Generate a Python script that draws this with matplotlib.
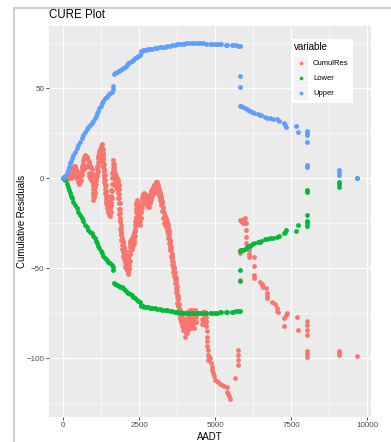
import numpy as np
import matplotlib.pyplot as plt
from matplotlib.lines import Line2D
from matplotlib.patches import Rectangle

plt.rcParams["font.family"] = ["Liberation Sans", "DejaVu Sans"]

# =========================
# data: (AADT, value)
# =========================
res_rise = [
    (0, 0), (30, 0.5), (66, 1), (110, 1.5), (150, 2), (190, 2.5), (230, 3), (260, 3.5),
    (286, 4), (310, 5), (330, 6), (360, 7), (395, 7), (410, 6), (430, 5), (450, 4),
    (470, 3), (490, 2), (504, 1), (520, 1.5), (540, 2), (560, 2.5), (580, 3), (600, 3.5),
    (614, 4), (625, 5.5), (640, 7), (655, 8.5), (669, 10), (685, 11), (700, 12), (720, 12.5),
    (740, 13), (760, 12.5), (780, 12), (800, 11), (820, 10), (840, 9), (860, 8), (880, 7),
    (900, 6.5), (920, 6), (943, 5), (952, 3), (960, 1), (968, -1.5), (975, -4), (980, -6),
    (985, -8), (990, -10), (998, -12), (1005, -10.5), (1010, -9), (1020, -7), (1030, -5),
    (1045, -3), (1060, -1), (1075, 0.5), (1090, 2), (1107, 3), (1118, 5), (1130, 7),
    (1140, 9), (1150, 11), (1160, 12.5), (1170, 14), (1185, 14.5), (1200, 15), (1220, 16),
    (1240, 17), (1255, 18), (1272, 19), (1280, 17), (1290, 15), (1295, 13), (1300, 11),
    (1308, 9.5), (1315, 8), (1320, 7), (1327, 6), (1333, 4), (1340, 2), (1350, 0),
    (1360, -2), (1370, -4), (1380, -6), (1390, -8), (1400, -10), (1410, -11.5), (1420, -13),
    (1428, -14), (1436, -15), (1450, -16.5), (1470, -18), (1485, -19), (1500, -20),
    (1520, -20.5), (1546, -21),
]

res_drop = [
    (1553, -19), (1560, -17), (1570, -13.5), (1580, -10), (1590, -6.5), (1600, -3),
    (1610, 0), (1620, 3), (1630, 5.5), (1640, 8), (1656, 10), (1663, 8), (1670, 6),
    (1685, 4.5), (1700, 3), (1720, 2), (1740, 1), (1760, 0.5), (1780, 0), (1800, -1),
    (1820, -2), (1830, -4), (1840, -6), (1848, -8.5), (1855, -11), (1862, -14), (1870, -17),
    (1875, -19.5), (1880, -22), (1890, -24), (1900, -26), (1908, -28), (1915, -30),
    (1922, -31.5), (1930, -33), (1945, -34), (1960, -35), (1975, -36), (1990, -37),
    (2005, -38), (2020, -39), (2030, -40.5), (2040, -42), (2055, -43.5), (2070, -45),
    (2085, -46.5), (2100, -48), (2115, -49.5), (2130, -51), (2140, -52), (2149, -53),
]

res_hump = [
    (2157, -50.5), (2165, -48), (2172, -45.5), (2180, -43), (2190, -40.5), (2200, -38),
    (2210, -36.5), (2220, -35), (2240, -34.5), (2260, -34), (2280, -33), (2300, -32),
    (2320, -31), (2340, -30), (2355, -29), (2368, -28), (2374, -26), (2380, -24),
    (2388, -21.5), (2395, -19), (2402, -17), (2410, -15), (2416, -13.5), (2423, -12),
    (2437, -13), (2450, -14), (2465, -16), (2480, -18), (2490, -19.5), (2500, -21),
    (2515, -21.5), (2533, -22), (2546, -19.5), (2560, -17), (2575, -14.5), (2590, -12),
    (2605, -10.5), (2620, -9), (2640, -8.5), (2660, -8), (2680, -8.5), (2700, -9),
    (2725, -10), (2750, -11), (2775, -12), (2800, -13), (2820, -11.5), (2840, -10),
    (2860, -9), (2880, -8), (2905, -7), (2930, -6), (2950, -5.5), (2971, -5), (2990, -4.5),
    (3010, -4), (3030, -3), (3050, -2), (3065, -2), (3082, -2), (3100, -3), (3120, -4),
    (3140, -5), (3160, -6), (3180, -7.5), (3200, -9), (3220, -10), (3240, -11),
    (3255, -12.5), (3270, -14), (3285, -16), (3300, -18), (3320, -19.5), (3340, -21),
    (3360, -21.5), (3380, -22), (3400, -23), (3420, -24), (3440, -25.5), (3464, -27),
    (3472, -28.5), (3480, -30), (3490, -31.5), (3500, -33), (3510, -34), (3520, -35),
    (3532, -36.5), (3545, -38), (3560, -40), (3575, -42), (3588, -43.5), (3600, -45),
    (3615, -46.5), (3630, -48), (3645, -49), (3662, -50), (3676, -52), (3690, -54),
    (3702, -55.5), (3715, -57), (3728, -58.5), (3740, -60), (3750, -62), (3760, -64),
    (3770, -65.5), (3780, -67), (3793, -70),
]

# second edge of the thick band (0 - 3800)
res_band = [
    (100, -1), (180, -0.5), (260, 0), (300, 1), (350, 2), (400, 2.5), (440, 0), (480, -2),
    (520, -3), (560, -2), (600, -1), (640, 2), (680, 5), (720, 7), (760, 7), (800, 6),
    (840, 3), (870, 1), (900, 0), (930, -1), (1000, -4), (1015, -6), (1030, -10),
    (1045, -8), (1060, -5), (1080, -3), (1100, -1), (1120, 1), (1140, 4), (1160, 7),
    (1180, 9), (1200, 11), (1220, 13), (1240, 14), (1260, 12), (1280, 10), (1300, 14),
    (1310, 16), (1320, 13), (1330, 11), (1345, 8), (1360, 5), (1375, 2), (1390, -1),
    (1405, -4), (1420, -7), (1440, -10), (1460, -12), (1480, -14), (1500, -16), (1520, -18),
    (1540, -16), (1555, -12), (1570, -19), (1585, -15), (1600, -11), (1615, -7), (1630, -3),
    (1645, 1), (1660, 4), (1680, 0), (1700, -2), (1720, -4), (1740, -3), (1760, -5),
    (1780, -6), (1800, -8), (1815, -11), (1830, -14), (1845, -17), (1855, -20), (1865, -24),
    (1880, -28), (1895, -31), (1910, -34), (1930, -37), (1950, -39), (1970, -41),
    (1990, -43), (2010, -45), (2030, -47), (2050, -49), (2070, -50), (2090, -51),
    (2180, -50), (2200, -46), (2220, -42), (2240, -40), (2260, -39), (2280, -38),
    (2300, -37), (2320, -36), (2340, -34), (2360, -32), (2380, -29), (2395, -26),
    (2410, -22), (2425, -18), (2440, -17), (2460, -20), (2480, -23), (2500, -25),
    (2520, -26), (2545, -24), (2560, -22), (2580, -19), (2600, -16), (2620, -14),
    (2645, -13), (2670, -12), (2700, -13), (2730, -14), (2760, -15), (2790, -16),
    (2820, -16), (2850, -14), (2880, -12), (2910, -11), (2940, -10), (2970, -9),
    (3000, -8), (3030, -7), (3060, -6), (3090, -6), (3120, -8), (3150, -10), (3180, -12),
    (3210, -13), (3240, -15), (3270, -18), (3300, -22), (3330, -25), (3360, -26),
    (3390, -27), (3420, -29), (3450, -31), (3470, -33), (3490, -36), (3510, -38),
    (3530, -40), (3550, -43), (3570, -46), (3590, -48), (3610, -50), (3630, -52),
    (3650, -54), (3670, -56), (3690, -58), (3710, -61), (3730, -63), (3745, -66),
    (3760, -69), (3775, -71),
]

res_cluster = [
    (3800, -72), (3815, -74), (3820, -70), (3830, -75.5), (3845, -77), (3850, -73),
    (3860, -78), (3870, -80), (3880, -74), (3890, -77), (3900, -80), (3910, -75),
    (3915, -82), (3930, -77), (3940, -80), (3957, -79), (3960, -84), (3970, -81),
    (3980, -83), (3990, -78), (4000, -81), (4010, -80), (4020, -85), (4030, -88),
    (4040, -83), (4050, -80), (4055, -86), (4069, -86), (4075, -83), (4080, -80),
    (4090, -74), (4100, -77), (4110, -84), (4120, -82), (4130, -74), (4140, -78),
    (4150, -81), (4160, -74), (4170, -79), (4178, -76), (4190, -73), (4200, -80),
    (4210, -83), (4220, -78), (4230, -75), (4240, -82), (4250, -73), (4260, -79),
    (4270, -77), (4286, -81), (4300, -76), (4310, -83), (4320, -78), (4330, -80),
    (4342, -75), (4350, -73), (4360, -80), (4370, -77), (4380, -74), (4390, -80),
    (4562, -75), (4570, -81), (4580, -78), (4590, -74), (4600, -81), (4615, -79),
    (4620, -74), (4640, -76), (4650, -79), (4671, -77), (4680, -74), (4690, -80),
    (4700, -77), (4710, -82), (4720, -79), (4727, -85),
]

res_fall = [
    (4730, -88), (4735, -90.5), (4740, -93), (4755, -95.5), (4770, -98), (4780, -101),
    (4800, -99), (4836, -100), (4860, -102.5), (4891, -105), (4915, -106.5), (4945, -108),
    (4970, -110), (5000, -112), (5050, -112.5), (5109, -113), (5160, -114), (5220, -115),
    (5300, -115.5), (5385, -116), (5405, -118.5), (5440, -120), (5470, -121), (5493, -122.5),
]

res_far = [
    (5658, -111), (5767, -95.4), (5767, -98.1), (5767, -100.9), (5767, -103.6),
    (5822, -23), (5850, -24), (5877, -24.5), (5905, -23), (5932, -25), (5960, -22.5),
    (5987, -22), (6020, -25), (6020, -28.7), (6020, -32.4), (6020, -36), (6042, -38.9),
    (5822, -40), (5822, -41.7), (6128, -40), (6128, -42), (6128, -43.9), (6283, -43.9),
    (6293, -48.7), (6293, -53.5), (6293, -55.6), (5822, -56.5), (6480, -57.4),
    (6535, -58.5), (6560, -59.5), (6590, -60.2), (6678, -61.1), (6700, -63.9),
    (6710, -65.3), (6721, -66.7), (6865, -68.7), (6974, -69.6), (7030, -72.2),
    (7040, -73.6), (7083, -74.1), (7270, -77.8), (7336, -75.9), (7379, -75), (7270, -82),
    (7687, -76.9), (7720, -84.3), (8016, -79), (8016, -81.5), (8016, -84), (8016, -87),
    (8016, -96), (8016, -97.5), (8016, -99), (9079, -95.8), (9079, -97), (9079, -98),
    (9681, -98.7),
]

upper_pts = [
    (0, 0), (30, 0.5), (66, 1), (120, 3), (174, 4.6), (200, 6.5), (230, 8.3), (260, 9.7),
    (286, 11.1), (340, 13), (395, 14.8), (450, 16.7), (504, 18.5), (560, 20.4), (614, 22.2),
    (670, 24), (724, 25.9), (780, 27.3), (833, 28.7), (890, 29.6), (943, 30.6), (1000, 32),
    (1053, 33.3), (1080, 34.7), (1107, 36.1), (1150, 37.5), (1195, 38.9), (1235, 40.3),
    (1272, 41.7), (1330, 43), (1382, 44.4), (1440, 45.4), (1491, 46.3), (1545, 47.2),
    (1601, 48.1), (1630, 49.4), (1660, 51),
    (1670, 58), (1700, 58.5), (1765, 59.2), (1830, 59.8), (1890, 60.2), (1930, 60.5),
    (1985, 61.2), (2039, 62), (2095, 63), (2149, 63.9), (2200, 64.5), (2260, 65),
    (2313, 65.7), (2370, 66.6), (2423, 67.6), (2480, 68), (2533, 68.5), (2550, 70.2),
    (2566, 70.9), (2620, 71.1), (2680, 71.3), (2740, 71.5), (2807, 71.7), (2870, 71.9),
    (2940, 72), (3026, 72.2), (3100, 72.5), (3180, 72.7), (3260, 72.9), (3355, 73.1),
    (3430, 73.4), (3520, 73.7), (3600, 73.9), (3684, 74.1), (3740, 74.4), (3820, 74.5),
    (3900, 74.7), (3980, 74.8), (4060, 74.9), (4150, 75), (4250, 75), (4350, 75),
    (4430, 75), (4507, 75), (4600, 74.9), (4700, 74.8), (4836, 74.6), (4900, 74.6),
    (5000, 74.6), (5055, 74.6), (5150, 74.5), (5200, 74.4), (5350, 74.3), (5400, 74.2),
    (5550, 74.1), (5603, 74.1), (5700, 73.9), (5767, 73.7), (5822, 73.6),
    (5822, 57), (5822, 50.9), (5822, 40.2), (5870, 40), (5932, 39.8), (5990, 39),
    (6042, 38.3), (6100, 37.8), (6151, 37.4), (6220, 36.7), (6293, 36.1), (6400, 35.6),
    (6480, 35.2), (6520, 35), (6645, 33.9), (6700, 33.6), (6809, 33.3), (6900, 33.1),
    (7030, 32.8), (7116, 32), (7270, 30.6), (7290, 29.8), (7336, 28.7), (7664, 29),
    (7720, 25.9), (8016, 26.4), (8016, 25), (8016, 24), (8016, 20.3), (8016, 7.4),
    (8016, 6.5), (9079, 4.6), (9079, 3.3), (9079, 1.9), (9681, 0),
]

lower_pts = [
    (0, 0), (30, -0.5), (66, -1), (120, -3), (174, -4.6), (200, -6.5), (230, -8.3), (260, -9.7),
    (286, -11.1), (340, -13), (395, -14.8), (450, -16.7), (504, -18.5), (560, -20.4),
    (614, -22.2), (670, -24), (724, -25.9), (780, -27.3), (833, -28.7), (890, -29.6),
    (943, -30.6), (1000, -32), (1053, -33.3), (1080, -34.7), (1107, -36.1), (1150, -37.5),
    (1195, -38.9), (1235, -40.3), (1272, -41.7), (1330, -43), (1382, -44.4), (1440, -45.4),
    (1491, -46.3), (1545, -47.2), (1601, -48.1), (1630, -49.4), (1660, -51),
    (1670, -58), (1700, -58.5), (1765, -59.2), (1830, -59.8), (1890, -60.2), (1930, -60.5),
    (1985, -61.2), (2039, -62), (2095, -63), (2149, -63.9), (2200, -64.5), (2260, -65),
    (2313, -65.7), (2370, -66.6), (2423, -67.6), (2480, -68), (2533, -68.5), (2550, -70.2),
    (2566, -70.9), (2620, -71.1), (2680, -71.3), (2740, -71.5), (2807, -71.7), (2870, -71.9),
    (2940, -72), (3026, -72.2), (3100, -72.5), (3180, -72.7), (3260, -72.9), (3355, -73.1),
    (3430, -73.4), (3520, -73.7), (3600, -73.9), (3684, -74.1), (3740, -74.4), (3820, -74.5),
    (3900, -74.7), (3980, -74.8), (4060, -74.9), (4150, -75), (4250, -75), (4350, -75),
    (4430, -75), (4507, -75), (4600, -74.9), (4700, -74.8), (4836, -74.6), (4900, -74.6),
    (5000, -74.6), (5055, -74.6), (5150, -74.5), (5200, -74.4), (5350, -74.3), (5400, -74.2),
    (5550, -74.1), (5603, -74.1), (5700, -73.9), (5767, -73.7), (5822, -73.6),
    (5822, -57), (5822, -50.9), (5822, -40.2), (5870, -40), (5932, -39.8), (5990, -39),
    (6042, -38.3), (6100, -37.8), (6151, -37.4), (6220, -36.7), (6293, -36.1), (6400, -35.6),
    (6480, -35.2), (6520, -35), (6645, -33.9), (6700, -33.6), (6809, -33.3), (6900, -33.1),
    (7030, -32.8), (7116, -32), (7270, -30.6), (7290, -29.8), (7336, -28.7), (7664, -29),
    (7720, -25.9), (8016, -26.4), (8016, -25), (8016, -24), (8016, -20.3), (8016, -7.4),
    (8016, -6.5), (9079, -4.6), (9079, -3.3), (9079, -1.9), (9681, 0),
]

series = ["CumulRes", "Lower", "Upper"]
colors = ["#F8766D", "#00BA38", "#619CFF"]

x_ticks = [0, 2500, 5000, 7500, 10000]
y_ticks = [-100, -50, 0, 50]

cumul = np.array(res_rise + res_drop + res_hump + res_band + res_cluster + res_fall + res_far)
upper = np.array(upper_pts)
lower = np.array(lower_pts)

# =========================
# figure
# =========================
W, H = 391, 442
fig = plt.figure(figsize=(W / 100, H / 100), dpi=100)


def fx(px):
    return px / W


def fy(py):
    return 1 - py / H


ax = fig.add_axes([fx(49), fy(417), fx(371) - fx(49), fy(26) - fy(417)])
ax.set_facecolor("#EBEBEB")
for s in ax.spines.values():
    s.set_visible(False)

for pts, col in zip([cumul, lower, upper], colors):
    ax.scatter(pts[:, 0], pts[:, 1], s=12, c=col, linewidths=0, zorder=3)

ax.set_xlim(-460, 10132)
ax.set_ylim(-132.6, 84.6)
ax.set_xticks(x_ticks)
ax.set_xticklabels([str(v) for v in x_ticks])
ax.set_yticks(y_ticks)
ax.set_xticks([1250, 3750, 6250, 8750], minor=True)
ax.set_yticks([-125, -75, -25, 25, 75], minor=True)
ax.grid(which="major", color="white", linewidth=0.8)
ax.grid(which="minor", color="white", linewidth=0.4)
ax.set_axisbelow(True)
ax.tick_params(which="major", length=2, width=0.6, color="#333333", pad=1.5,
               labelsize=5.8, labelcolor="#4D4D4D")
ax.tick_params(which="minor", length=0)

ax.set_xlabel("AADT", fontsize=6.9, labelpad=2)
ax.set_ylabel("Cumulative Residuals", fontsize=6.9, labelpad=-0.5)
fig.text(fx(49), fy(15), "CURE Plot", fontsize=8.3, ha="left", va="center")

# legend (ggplot style)
fig.patches.append(Rectangle((fx(291), fy(103)), fx(353) - fx(291), fy(39) - fy(103),
                             transform=fig.transFigure, facecolor="white",
                             edgecolor="none", zorder=5))
fig.text(fx(294), fy(47), "variable", fontsize=7, ha="left", va="center", zorder=6)
for i, (name, col) in enumerate(zip(series, colors)):
    top = 56.5 + i * 14.8
    fig.patches.append(Rectangle((fx(294), fy(top + 14)), fx(308) - fx(294), fy(top) - fy(top + 14),
                                 transform=fig.transFigure, facecolor="#F2F2F2",
                                 edgecolor="none", zorder=6))
    fig.add_artist(Line2D([fx(301)], [fy(top + 7)], marker="o", markersize=2.6,
                          color=col, markeredgewidth=0, linestyle="none", zorder=7))
    fig.text(fx(313), fy(top + 7), name, fontsize=5.5, ha="left", va="center", zorder=7)

# screenshot frame
fig.add_artist(Line2D([fx(14), 1], [fy(8), fy(8)], color="#CFCFCF", linewidth=1.5))
fig.add_artist(Line2D([fx(14), fx(14)], [fy(8), 0], color="#CFCFCF", linewidth=1.5))

fig.savefig("out.png", dpi=100)
plt.close("all")
